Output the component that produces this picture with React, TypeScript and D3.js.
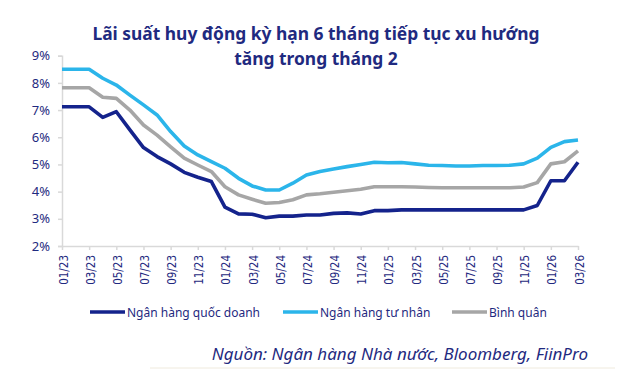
import React, { useEffect, useRef } from "react";
import * as d3 from "d3";

const months: string[] = [
  "01/23","02/23","03/23","04/23","05/23","06/23","07/23","08/23","09/23","10/23","11/23","12/23",
  "01/24","02/24","03/24","04/24","05/24","06/24","07/24","08/24","09/24","10/24","11/24","12/24",
  "01/25","02/25","03/25","04/25","05/25","06/25","07/25","08/25","09/25","10/25","11/25","12/25",
  "01/26","02/26","03/26",
];
const stateBanks: number[] = [7.12,7.12,7.12,6.73,6.94,6.27,5.62,5.29,5.02,4.71,4.53,4.37,3.43,3.18,3.17,3.04,3.1,3.1,3.14,3.14,3.2,3.22,3.18,3.3,3.3,3.33,3.33,3.33,3.33,3.33,3.33,3.33,3.33,3.33,3.33,3.49,4.4,4.4,5.08];
const privateBanks: number[] = [8.5,8.5,8.5,8.17,7.92,7.55,7.19,6.82,6.21,5.68,5.35,5.1,4.86,4.49,4.21,4.06,4.06,4.31,4.61,4.74,4.83,4.92,5.0,5.08,5.06,5.07,5.02,4.97,4.96,4.94,4.94,4.96,4.96,4.97,5.02,5.23,5.63,5.84,5.9];
const average: number[] = [7.82,7.82,7.82,7.47,7.43,7.0,6.45,6.08,5.65,5.23,4.98,4.74,4.18,3.88,3.72,3.57,3.6,3.7,3.88,3.92,3.98,4.03,4.09,4.18,4.18,4.18,4.17,4.15,4.14,4.14,4.14,4.14,4.14,4.14,4.17,4.33,5.02,5.1,5.5];
const yTicks: number[] = [2, 3, 4, 5, 6, 7, 8, 9];
const seriesNames: string[] = ["Ngân hàng quốc doanh", "Ngân hàng tư nhân", "Bình quân"];
const seriesColors: string[] = ["#14238c", "#2bb5ea", "#a6a6a6"];
const titleLines: string[] = ["Lãi suất huy động kỳ hạn 6 tháng tiếp tục xu hướng", "tăng trong tháng 2"];
const sourceText = "Nguồn:  Ngân hàng Nhà nước, Bloomberg, FiinPro";

const W = 632, H = 382;
const NAVY = "#1f2a80";

export default function App() {
  const ref = useRef<SVGSVGElement>(null);
  useEffect(() => {
    const svg = d3.select(ref.current);
    svg.selectAll("*").remove();
    svg.append("rect").attr("width", W).attr("height", H).attr("fill", "#fff");

    const x = d3.scalePoint<string>().domain(months).range([62, 578]);
    const y = d3.scaleLinear().domain([2, 9]).range([246, 55.7]);

    // title
    svg.append("g").selectAll("text").data(titleLines).join("text")
      .attr("x", 316).attr("y", (_d, i) => 40 + i * 25)
      .attr("text-anchor", "middle")
      .attr("font-family", "'Noto Sans', sans-serif")
      .attr("font-weight", 700).attr("font-size", 17.4)
      .attr("fill", NAVY).text(d => d);

    // y axis
    const ya = svg.append("g").attr("transform", "translate(62,0)")
      .call(d3.axisLeft(y).tickValues(yTicks).tickSize(4).tickPadding(8).tickFormat(d => `${d}%`));
    ya.select(".domain").attr("stroke", "#d9d9d9").attr("stroke-width", 1.5);
    ya.selectAll(".tick line").attr("stroke", "#d9d9d9").attr("stroke-width", 1.5);
    ya.selectAll(".tick text").attr("fill", NAVY).attr("font-size", 13)
      .attr("font-family", "'Noto Sans', sans-serif");

    // x axis
    const xTicks = months.filter((_m, i) => i % 2 === 0);
    const xa = svg.append("g").attr("transform", "translate(0,246)")
      .call(d3.axisBottom(x).tickValues(xTicks).tickSize(4).tickSizeOuter(0).tickPadding(6));
    xa.select(".domain").attr("stroke", "#d9d9d9").attr("stroke-width", 1.5);
    xa.selectAll(".tick line").attr("stroke", "#d9d9d9").attr("stroke-width", 1.5);
    xa.selectAll(".tick text")
      .attr("fill", NAVY).attr("font-size", 11.5)
      .attr("font-family", "'Liberation Sans Narrow', 'DejaVu Sans Condensed', sans-serif")
      .attr("transform", "rotate(-90)")
      .attr("text-anchor", "end").attr("dy", "0.35em")
      .attr("y", 1).attr("x", -9);

    // lines
    const series = [stateBanks, privateBanks, average];
    const order = [2, 1, 0];
    const line = d3.line<number>().x((_d, i) => x(months[i])!).y(d => y(d));
    order.forEach(k => {
      svg.append("path").datum(series[k]).attr("d", line)
        .attr("fill", "none").attr("stroke", seriesColors[k])
        .attr("stroke-width", 3.6).attr("stroke-linejoin", "round");
    });

    // legend
    const legX = [90, 283, 452];
    const lg = svg.append("g");
    seriesNames.forEach((name, i) => {
      lg.append("line").attr("x1", legX[i]).attr("x2", legX[i] + 35)
        .attr("y1", 312).attr("y2", 312)
        .attr("stroke", seriesColors[i]).attr("stroke-width", 3.6);
      lg.append("text").attr("x", legX[i] + 37).attr("y", 316.5)
        .attr("font-family", "'Noto Sans', sans-serif").attr("font-size", 12)
        .attr("fill", NAVY).text(name);
    });

    // source
    svg.append("text").attr("x", 588).attr("y", 360).attr("text-anchor", "end")
      .attr("font-family", "'Noto Sans', sans-serif").attr("font-style", "italic")
      .attr("font-size", 17).attr("fill", NAVY).text(sourceText);
    svg.append("line").attr("x1", 150).attr("x2", 615).attr("y1", 368).attr("y2", 368)
      .attr("stroke", "#efeadd").attr("stroke-width", 1);
  }, []);
  return (
    <svg ref={ref} width={W} height={H}
      style={{ position: "absolute", left: 0, top: 0, display: "block" }} />
  );
}
